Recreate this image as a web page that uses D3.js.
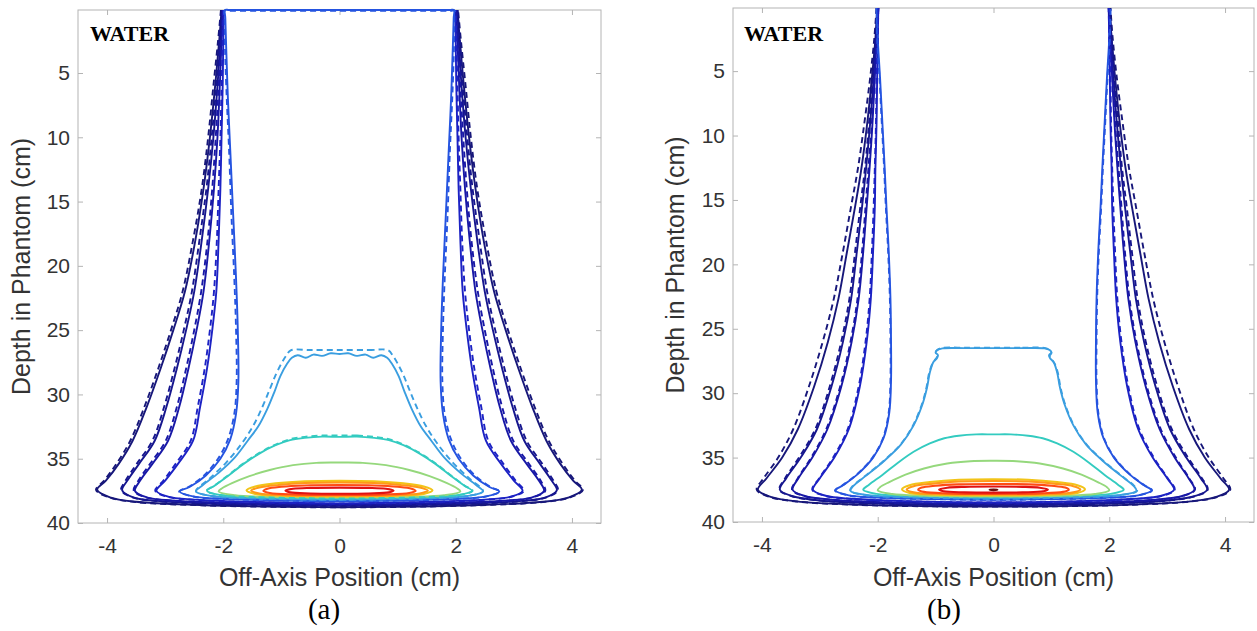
<!DOCTYPE html>
<html>
<head>
<meta charset="utf-8">
<script src="https://cdn.jsdelivr.net/npm/d3@7"></script>
<style>
  body { margin: 0; background: #fff; }
  svg { display: block; }
</style>
</head>
<body>
<svg id="fig" width="1257" height="631"></svg>
<script>
// ---- tick values ----
const xTicks = [-4, -2, 0, 2, 4];
const yTicks = [5, 10, 15, 20, 25, 30, 35, 40];
const xDomain = [-4.5, 4.5];
const yDomain = [0.1, 40];

// isodose levels, lowest (outermost) to highest, jet colours
const levelColors = ['#17177a', '#16168e', '#1818a6', '#1c22c4', '#2554e0', '#3a9ee0',
                     '#33cbc0', '#95d87c', '#f2c418', '#ff9818', '#ff4c14', '#e01212'];
const peakColor = '#6a1010';

// Each contour is given as its half on the x >= 0 side, [off-axis cm, depth cm],
// from its upper end down to the beam axis at the bottom.  The dose is symmetric
// about the axis, so the other half is its mirror image.  A half starting at x = 0
// is a closed loop; otherwise the contour is open at the phantom surface.

// (a) solid
const panelASolid = [
  [[2.03,0.1],[2.07,2.5],[2.14,6],[2.23,10],[2.34,14],[2.48,18],[2.66,22],[2.86,25],[3.08,28],[3.32,31],[3.56,33.6],[3.8,35.4],[4.02,36.7],[4.17,37.4],[3.95,38.0],[3.5,38.35],[2.4,38.6],[1.0,38.74],[0,38.77]],
  [[2.02,0.1],[2.05,2.5],[2.1,6],[2.17,10],[2.26,14],[2.37,18],[2.5,22],[2.64,25],[2.8,28],[2.98,31],[3.18,33.6],[3.45,35.4],[3.65,36.7],[3.74,37.45],[3.55,38.0],[3.1,38.3],[2.0,38.52],[0,38.66]],
  [[2.0,0.1],[2.03,2.5],[2.06,6],[2.1,10],[2.16,14],[2.24,18],[2.34,22],[2.46,25],[2.6,28],[2.76,31],[2.95,33.6],[3.22,35.4],[3.43,36.7],[3.52,37.5],[3.32,38.0],[2.9,38.25],[1.8,38.45],[0,38.57]],
  [[1.99,0.1],[2.0,2.5],[2.01,6],[2.03,10],[2.05,14],[2.08,18],[2.12,22],[2.19,25],[2.28,28],[2.4,31],[2.52,33.6],[2.78,35.4],[3.0,36.7],[3.15,37.5],[2.95,37.95],[2.5,38.18],[1.5,38.36],[0,38.47]],
  [[0,0.1],[0.7,0.1],[1.4,0.1],[1.9,0.1],[1.97,0.1],[1.965,0.7],[1.95,3],[1.92,7],[1.88,11],[1.83,16],[1.78,21],[1.75,25],[1.74,29],[1.78,31.5],[1.88,33.5],[2.05,35.0],[2.3,36.3],[2.58,37.2],[2.75,37.55],[2.5,37.95],[2.0,38.12],[1.0,38.25],[0,38.3]],
  [[0,26.85],[0.15,26.8],[0.3,27.0],[0.45,26.9],[0.58,27.15],[0.72,26.95],[0.82,27.15],[0.9,27.6],[1.02,28.6],[1.12,29.8],[1.24,31.1],[1.4,32.5],[1.58,33.6],[1.8,34.9],[2.08,36.1],[2.35,37.05],[2.47,37.55],[2.2,37.9],[1.5,38.08],[0.5,38.18],[0,38.2]],
  [[0,33.3],[0.3,33.28],[0.6,33.38],[0.85,33.55],[1.1,33.95],[1.38,34.6],[1.65,35.4],[1.92,36.35],[2.15,37.1],[2.28,37.5],[2.05,37.82],[1.5,37.98],[0.5,38.08],[0,38.1]],
  [[0,35.3],[0.4,35.32],[0.8,35.5],[1.2,35.88],[1.55,36.35],[1.85,36.9],[2.02,37.3],[2.08,37.55],[1.8,37.84],[1.2,37.97],[0,38.03]],
  [[0,36.72],[0.6,36.76],[1.1,36.92],[1.45,37.16],[1.6,37.45],[1.45,37.74],[1.0,37.88],[0,37.95]],
  [[0,36.85],[0.6,36.89],[1.05,37.04],[1.38,37.24],[1.52,37.48],[1.38,37.7],[0.95,37.83],[0,37.88]],
  [[0,37.05],[0.6,37.08],[1.0,37.18],[1.24,37.33],[1.31,37.5],[1.2,37.66],[0.8,37.78],[0,37.82]],
  [[0,37.25],[0.5,37.27],[0.8,37.34],[0.93,37.48],[0.85,37.62],[0.5,37.7],[0,37.72]]
];

// (a) dashed
const panelADashed = [
  [[2.04,0.1],[2.09,2.5],[2.17,6],[2.26,10],[2.37,14],[2.52,18],[2.7,22],[2.9,25],[3.12,28],[3.36,31],[3.6,33.6],[3.84,35.4],[4.05,36.7],[4.19,37.42],[3.97,38.0],[3.5,38.37],[2.4,38.62],[1.0,38.75],[0,38.78]],
  [[2.03,0.1],[2.07,2.5],[2.12,6],[2.2,10],[2.29,14],[2.41,18],[2.54,22],[2.68,25],[2.84,28],[3.02,31],[3.22,33.6],[3.49,35.4],[3.68,36.7],[3.76,37.45],[3.56,38.0],[3.1,38.32],[2.0,38.54],[0,38.67]],
  [[2.01,0.1],[2.04,2.5],[2.08,6],[2.13,10],[2.19,14],[2.27,18],[2.38,22],[2.5,25],[2.64,28],[2.8,31],[2.99,33.6],[3.26,35.4],[3.46,36.7],[3.54,37.5],[3.33,38.0],[2.9,38.27],[1.8,38.47],[0,38.58]],
  [[2.0,0.1],[2.01,2.5],[2.03,6],[2.05,10],[2.08,14],[2.11,18],[2.16,22],[2.23,25],[2.32,28],[2.44,31],[2.56,33.6],[2.82,35.4],[3.03,36.7],[3.17,37.5],[2.96,37.96],[2.5,38.2],[1.5,38.37],[0,38.48]],
  [[0,0.16],[0.7,0.16],[1.4,0.16],[1.91,0.16],[1.98,0.16],[1.975,0.75],[1.97,3],[1.94,7],[1.9,11],[1.86,16],[1.81,21],[1.78,25],[1.77,29],[1.81,31.5],[1.92,33.5],[2.09,35.0],[2.33,36.3],[2.6,37.2],[2.76,37.55],[2.5,37.96],[2.0,38.13],[1.0,38.26],[0,38.31]],
  [[0,26.55],[0.5,26.55],[0.84,26.57],[0.92,27.0],[1.0,27.6],[1.1,28.5],[1.2,29.6],[1.32,30.9],[1.48,32.4],[1.68,33.8],[1.95,35.3],[2.25,36.6],[2.47,37.52],[2.2,37.9],[1.5,38.08],[0.5,38.18],[0,38.2]],
  [[0,33.2],[0.3,33.2],[0.6,33.3],[0.85,33.48],[1.1,33.9],[1.38,34.55],[1.65,35.35],[1.92,36.3],[2.15,37.08],[2.29,37.5],[2.05,37.83],[1.5,37.98],[0.5,38.08],[0,38.1]]
];

// (b) solid
const panelBSolid = [
  [[2.01,0.1],[2.04,2.5],[2.1,5.5],[2.18,9],[2.28,12.5],[2.39,15.5],[2.53,19],[2.68,22.7],[2.86,26],[3.1,29.5],[3.38,32.8],[3.65,35.0],[3.92,36.6],[4.07,37.5],[3.85,38.05],[3.4,38.4],[2.4,38.65],[1.0,38.78],[0,38.8]],
  [[2.0,0.1],[2.03,2.5],[2.07,5.5],[2.13,9],[2.2,12.5],[2.27,15.5],[2.36,19],[2.46,22.7],[2.6,26],[2.8,29.5],[3.05,32.8],[3.33,35.0],[3.58,36.6],[3.69,37.5],[3.47,38.0],[3.0,38.33],[2.0,38.56],[0,38.68]],
  [[1.99,0.1],[2.02,2.5],[2.05,5.5],[2.09,9],[2.14,12.5],[2.19,15.5],[2.25,19],[2.33,22.7],[2.45,26],[2.63,29.5],[2.87,32.8],[3.13,35.0],[3.37,36.6],[3.47,37.5],[3.26,37.98],[2.8,38.27],[1.8,38.48],[0,38.58]],
  [[1.99,0.1],[2.0,2.5],[2.01,5.5],[2.02,9],[2.04,12.5],[2.05,15.5],[2.08,19],[2.12,22.7],[2.19,26],[2.31,29.5],[2.5,32.8],[2.75,35.0],[3.0,36.6],[3.12,37.5],[2.9,37.96],[2.45,38.2],[1.5,38.38],[0,38.48]],
  [[2.02,0.1],[2.0,2.5],[1.96,5.5],[1.92,9],[1.88,12.5],[1.85,15.5],[1.81,19],[1.78,22.7],[1.77,26],[1.77,29],[1.8,31.5],[1.9,33.5],[2.08,35.0],[2.35,36.3],[2.6,37.15],[2.73,37.55],[2.5,37.93],[2.0,38.1],[1.0,38.22],[0,38.27]],
  [[0,26.5],[0.5,26.5],[0.88,26.52],[0.97,26.65],[1.0,26.85],[0.96,27.05],[0.98,27.3],[1.04,27.6],[1.1,28.4],[1.15,29.6],[1.23,30.9],[1.38,32.5],[1.6,34.0],[1.9,35.3],[2.2,36.4],[2.42,37.2],[2.47,37.58],[2.2,37.9],[1.5,38.07],[0.5,38.17],[0,38.19]],
  [[0,33.2],[0.3,33.2],[0.6,33.3],[0.85,33.5],[1.1,33.9],[1.38,34.55],[1.65,35.4],[1.92,36.35],[2.15,37.1],[2.25,37.5],[2.02,37.82],[1.5,37.97],[0.5,38.07],[0,38.09]],
  [[0,35.25],[0.4,35.28],[0.8,35.46],[1.2,35.85],[1.52,36.32],[1.8,36.9],[1.96,37.3],[2.0,37.55],[1.75,37.83],[1.2,37.96],[0,38.02]],
  [[0,36.68],[0.6,36.72],[1.1,36.9],[1.45,37.14],[1.58,37.45],[1.45,37.74],[1.0,37.88],[0,37.94]],
  [[0,36.82],[0.6,36.86],[1.05,37.02],[1.38,37.22],[1.5,37.47],[1.38,37.7],[0.95,37.83],[0,37.87]],
  [[0,37.05],[0.6,37.08],[1.0,37.18],[1.24,37.33],[1.3,37.5],[1.2,37.66],[0.8,37.78],[0,37.82]],
  [[0,37.25],[0.5,37.27],[0.8,37.34],[0.94,37.48],[0.86,37.62],[0.5,37.7],[0,37.72]]
];

// (b) dashed
const panelBDashed = [
  [[2.02,0.1],[2.06,2.5],[2.13,5.5],[2.23,9],[2.34,12.5],[2.46,15.5],[2.6,19],[2.76,22.7],[2.95,26],[3.19,29.5],[3.46,32.8],[3.72,35.0],[3.97,36.6],[4.09,37.5],[3.86,38.06],[3.4,38.41],[2.4,38.66],[1.0,38.79],[0,38.81]],
  [[2.0,0.1],[2.04,2.5],[2.09,5.5],[2.15,9],[2.22,12.5],[2.3,15.5],[2.39,19],[2.49,22.7],[2.63,26],[2.83,29.5],[3.08,32.8],[3.36,35.0],[3.6,36.6],[3.7,37.5],[3.48,38.0],[3.0,38.34],[2.0,38.57],[0,38.69]],
  [[1.99,0.1],[2.02,2.5],[2.06,5.5],[2.1,9],[2.16,12.5],[2.21,15.5],[2.27,19],[2.35,22.7],[2.47,26],[2.65,29.5],[2.89,32.8],[3.15,35.0],[3.38,36.6],[3.48,37.5],[3.27,37.99],[2.8,38.28],[1.8,38.49],[0,38.59]],
  [[1.99,0.1],[2.0,2.5],[2.02,5.5],[2.03,9],[2.05,12.5],[2.07,15.5],[2.1,19],[2.14,22.7],[2.21,26],[2.33,29.5],[2.52,32.8],[2.77,35.0],[3.01,36.6],[3.13,37.5],[2.91,37.97],[2.45,38.21],[1.5,38.39],[0,38.49]],
  [[2.02,0.1],[2.01,2.5],[1.97,5.5],[1.93,9],[1.89,12.5],[1.86,15.5],[1.82,19],[1.79,22.7],[1.78,26],[1.78,29],[1.81,31.5],[1.91,33.5],[2.09,35.0],[2.36,36.3],[2.61,37.15],[2.74,37.55],[2.5,37.94],[2.0,38.11],[1.0,38.23],[0,38.28]],
  [[0,26.47],[0.5,26.47],[0.9,26.5],[0.98,26.68],[1.0,26.9],[0.97,27.1],[1.0,27.35],[1.05,27.65],[1.11,28.4],[1.16,29.6],[1.24,30.9],[1.39,32.5],[1.61,34.0],[1.91,35.3],[2.21,36.4],[2.43,37.2],[2.48,37.58],[2.2,37.91],[1.5,38.08],[0.5,38.18],[0,38.2]]
];

// (b) peak isodose (tiny loop at the Bragg peak)
const panelBPeak = [[0,37.46],[0.07,37.5],[0,37.54]];

// ---- drawing ----
const svg = d3.select('#fig');
svg.append('rect').attr('width', 1257).attr('height', 631).attr('fill', '#fff');

const sans = "'Liberation Sans', Arial, Helvetica, sans-serif";
const serif = "'Liberation Serif', 'Times New Roman', serif";
const frameColor = '#b4b4b4';
const textColor = '#333333';

const panels = [
  { solid: panelASolid, dashed: panelADashed, peak: null,
    box: { x0: 78, x1: 601, y0: 10, y1: 523 }, tag: '(a)', tagX: 324, waterX: 90, ylabX: 30 },
  { solid: panelBSolid, dashed: panelBDashed, peak: panelBPeak,
    box: { x0: 733, x1: 1254, y0: 8, y1: 522 }, tag: '(b)', tagX: 944, waterX: 744, ylabX: 684 }
];

function fullContour(half) {
  const left = half.map(([px, d]) => [-px, d]);
  if (half[0][0] === 0) {
    return { pts: half.concat(left.slice(1, -1).reverse()), closed: true };
  }
  return { pts: left.concat(half.slice(0, -1).reverse()), closed: false };
}

panels.forEach(p => {
  const { x0, x1, y0, y1 } = p.box;
  const x = d3.scaleLinear().domain(xDomain).range([x0, x1]);
  const y = d3.scaleLinear().domain(yDomain).range([y0, y1]);
  const g = svg.append('g');

  // axes with inward ticks on all four sides
  const fmt = d => String(d);
  const styleAxis = sel => {
    sel.select('.domain').remove();
    sel.selectAll('.tick line').attr('stroke', frameColor).attr('stroke-width', 1);
    sel.selectAll('.tick text').attr('fill', textColor)
      .style('font-family', sans).style('font-size', '21px');
  };
  g.append('g').attr('transform', `translate(0,${y1})`)
    .call(d3.axisBottom(x).tickValues(xTicks).tickSize(-5).tickPadding(15).tickFormat(fmt))
    .call(styleAxis);
  g.append('g').attr('transform', `translate(0,${y0})`)
    .call(d3.axisTop(x).tickValues(xTicks).tickSize(-5).tickFormat(''))
    .call(styleAxis);
  g.append('g').attr('transform', `translate(${x0},0)`)
    .call(d3.axisLeft(y).tickValues(yTicks).tickSize(-5).tickPadding(8).tickFormat(fmt))
    .call(styleAxis);
  g.append('g').attr('transform', `translate(${x1},0)`)
    .call(d3.axisRight(y).tickValues(yTicks).tickSize(-5).tickFormat(''))
    .call(styleAxis);
  g.append('rect').attr('x', x0).attr('y', y0)
    .attr('width', x1 - x0).attr('height', y1 - y0)
    .attr('fill', 'none').attr('stroke', frameColor).attr('stroke-width', 1);

  // axis titles
  g.append('text').attr('x', (x0 + x1) / 2).attr('y', 586)
    .attr('text-anchor', 'middle').attr('fill', textColor)
    .style('font-family', sans).style('font-size', '25px')
    .text('Off-Axis Position (cm)');
  g.append('text')
    .attr('transform', `translate(${p.ylabX},${(y0 + y1) / 2}) rotate(-90)`)
    .attr('text-anchor', 'middle').attr('fill', textColor)
    .style('font-family', sans).style('font-size', '25px')
    .text('Depth in Phantom (cm)');

  const line = closed => d3.line()
    .x(d => x(d[0])).y(d => y(d[1]))
    .curve(closed ? d3.curveCatmullRomClosed.alpha(0.5) : d3.curveCatmullRom.alpha(0.5));

  const drawSet = (set, dashed) => {
    set.forEach((half, i) => {
      const c = fullContour(half);
      g.append('path')
        .attr('d', line(c.closed)(c.pts))
        .attr('fill', 'none')
        .attr('stroke', levelColors[i])
        .attr('stroke-width', i >= 8 ? 2.1 : 1.9)
        .attr('stroke-linejoin', 'round')
        .attr('stroke-dasharray', dashed ? '6,4' : null);
    });
  };
  drawSet(p.solid, false);
  drawSet(p.dashed, true);

  if (p.peak) {
    const c = fullContour(p.peak);
    g.append('path').attr('d', line(true)(c.pts))
      .attr('fill', peakColor).attr('stroke', peakColor).attr('stroke-width', 1.8);
  }

  // medium label and panel tag
  g.append('text').attr('x', p.waterX).attr('y', 41)
    .attr('fill', '#000').style('font-family', serif)
    .style('font-size', '22px').style('font-weight', 'bold')
    .text('WATER');
  svg.append('text').attr('x', p.tagX).attr('y', 619)
    .attr('text-anchor', 'middle').attr('fill', '#000')
    .style('font-family', serif).style('font-size', '29px')
    .text(p.tag);
});
</script>
</body>
</html>
